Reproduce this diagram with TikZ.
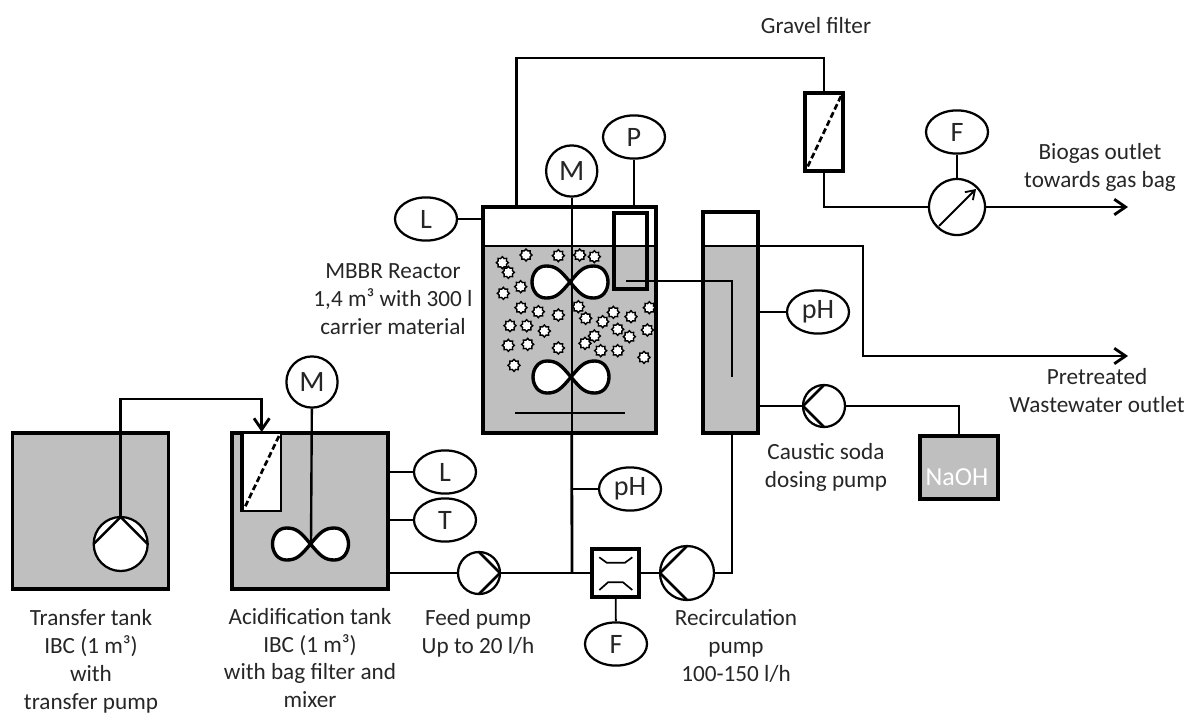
\documentclass[tikz,border=0pt]{standalone}
\usepackage{xcolor}
\usepackage{fontspec}
\setmainfont{Carlito}
\usetikzlibrary{shapes.geometric, arrows.meta, positioning, calc}
\definecolor{liquidgray}{RGB}{191, 191, 191}
\definecolor{textdark}{RGB}{38, 38, 38}
\tikzset{
    tank/.style={draw, line width=2.8pt, rectangle, inner sep=0pt, outer sep=0pt},
    instr/.style={draw, ellipse, line width=1.6pt, fill=white, inner sep=0pt, minimum width=1.55cm, minimum height=1.08cm, font=\fontsize{20}{22}\selectfont, text=textdark},
    motor/.style={draw, circle, line width=1.6pt, fill=white, inner sep=0pt, minimum size=1.28cm, font=\fontsize{21}{22}\selectfont, text=textdark},
    pump/.style={draw, circle, line width=1.6pt, fill=white, inner sep=0pt, outer sep=0pt, minimum size=#1},
    pipe/.style={line width=2pt},
    signal/.style={line width=1.3pt},
    outflow/.style={pipe, -{Straight Barb[length=8pt, width=11pt]}},
    filterdash/.style={line width=1.9pt, dash pattern=on 4.2pt off 2.2pt},
    carrier/.style={draw, star, star points=8, star point ratio=1.35, fill=white, line width=1pt, inner sep=0pt, minimum size=0.3cm},
    label/.style={align=center, inner sep=0pt, font=\fontsize{16.5}{19.9}\selectfont, text=textdark},
    mixer/.pic={
        \draw[line width=2.4pt, fill=white] (0,0) .. controls (-10,-12) and (-14,-16) .. (-24,-16) .. controls (-33,-16) and (-38,-8) .. (-38,0) .. controls (-38,8) and (-33,16) .. (-24,16) .. controls (-14,16) and (-10,12) .. (0,0) .. controls (10,-12) and (14,-16) .. (24,-16) .. controls (33,-16) and (38,-8) .. (38,0) .. controls (38,8) and (33,16) .. (24,16) .. controls (14,16) and (10,12) .. (0,0) -- cycle;
    }
}

\begin{document}
\begin{tikzpicture}[x=0.025cm, y=-0.025cm]
    \useasboundingbox (0,0) rectangle (1194,713);

    % Transfer tank
    \node[tank, fill=liquidgray, minimum width=3.9cm, minimum height=3.9cm] (transfertank) at (90.5,511) {};
    \node[pump=1.35cm] (transferpump) at (120.7,544) {};
    \draw[line width=1.8pt] (transferpump.west) -- (transferpump.north) -- (transferpump.east);
    \coordinate (bagin) at (261.7,432);
    \draw[outflow] (transferpump.north) |- (bagin |- 0,399) -- (bagin);

    % Acidification tank
    \node[tank, fill=liquidgray, minimum width=3.9cm, minimum height=3.9cm] (acidtank) at (310,511) {};
    \fill[white] (242,434) rectangle (281,511);
    \draw[line width=2pt] (281,433) -- (281,511) -- (242,511);
    \draw[line width=2.8pt] (242,433) -- (242,512);
    \draw[filterdash] (279,436) -- (244,509);
    \node[motor] (acidM) at (312,382) {M};
    \pic at (310.5,544) {mixer};
    \draw[signal, line width=1.7pt] (acidM) -- (311,544);
    \node[instr] (acidL) at (445,472) {L};
    \node[instr] (acidT) at (445,520) {T};
    \draw[signal] (acidtank.east |- acidL) -- (acidL);
    \draw[signal] (acidtank.east |- acidT) -- (acidT);

    % MBBR reactor
    \fill[liquidgray] (483,246) rectangle (656,433);
    \foreach \x/\y in {97/428, 115/457, 168/405, 265/407, 329/405, 373/410, 152/500, 100/520, 153/563, 205/575, 265/585, 325/560, 347/595, 398/605, 430/577, 483/590, 538/563, 120/617, 170/617, 223/633, 443/628, 478/650, 532/630, 373/648, 345/670, 115/676, 173/673, 265/684, 392/692, 443/692, 522/712, 132/736}
        \node[carrier] at ({470+\x/3},{120+\y/3}) {};
    \node[tank, minimum width=4.32cm, minimum height=5.65cm] (reactor) at (569.3,320) {};
    \draw[line width=1.7pt] (483,246) -- (656,246);
    \draw[line width=2.7pt] (614,213) rectangle (647,289);
    \pic at (570,282) {mixer};
    \pic at (571,377) {mixer};
    \node[motor] (reactorM) at (571.7,171) {M};
    \draw[signal, line width=1.7pt] (reactorM) -- (571.7,433);
    \draw[pipe] (515,413) -- (625,413);
    \node[instr] (reactorP) at (634,137) {P};
    \draw[signal] (reactorP) -- (reactorP |- reactor.north);
    \node[instr] (reactorL) at (426,219) {L};
    \draw[signal] (reactorL) -- (reactor.west |- reactorL);

    % Recirculation column
    \fill[liquidgray] (703,246) rectangle (758,433);
    \node[tank, minimum width=1.38cm, minimum height=5.53cm] (column) at (730.5,322.5) {};
    \draw[line width=1.7pt] (703,246) -- (758,246);
    \coordinate (inletdown) at (732,281);
    \draw[pipe] (626,281) -- (inletdown) -- (732,377);
    \node[instr] (columnpH) at (818,312) {pH};
    \draw[signal] (column.east |- columnpH) -- (columnpH);

    % Wastewater outlet
    \coordinate (wasteout) at (1128,356);
    \draw[outflow] (732,246) -- (863,246) -- (863,356) -- (wasteout);

    % Gravel filter and gas line
    \node[tank, line width=2.5pt, fill=white, minimum width=0.95cm, minimum height=1.95cm] (gravel) at (824,132) {};
    \draw[filterdash] (gravel.north east) ++(-2,3) -- ($(gravel.south west)+(2,-3)$);
    \draw[pipe] (516.7,207) |- (gravel.north |- 0,58) -- (gravel.north);
    \node[pump=1.4cm] (gasmeter) at (957,207) {};
    \draw[signal, -{Straight Barb[length=6pt, width=8pt]}] (939,226) -- (976,189);
    \draw[pipe] (gravel.south) |- (gasmeter);
    \node[instr] (gasF) at (957,132) {F};
    \draw[signal] (gasF) -- (gasmeter);
    \coordinate (gasout) at (1128,207);
    \draw[outflow] (gasmeter) -- (gasout);

    % Main line with pumps
    \node[pump=1.05cm] (feedpump) at (479,573) {};
    \draw[line width=1.8pt] (feedpump.north) -- (feedpump.east) -- (feedpump.south);
    \node[tank, line width=2.5pt, fill=white, minimum width=1.18cm, minimum height=1.2cm] (flowcell) at (615.5,573) {};
    \draw[line width=1.2pt] (599.3,557.3) -- (606.7,562.7) -- (625,562.7) -- (632.3,557.3);
    \draw[line width=1.2pt] (599.3,590) -- (608,582.3) -- (623,582.3) -- (632.3,590);
    \node[pump=1.35cm] (recircpump) at (687,573) {};
    \draw[line width=1.8pt] (recircpump.north) -- (recircpump.west) -- (recircpump.south);
    \coordinate (junction) at (572,573);
    \draw[pipe] (acidtank.east |- feedpump) -- (feedpump);
    \draw[pipe] (feedpump) -- (flowcell);
    \draw[pipe] (flowcell) -- (recircpump);
    \draw[pipe] (recircpump) -| (732,433);
    \draw[pipe] (junction) -- (571.7,433);
    \node[instr] (linepH) at (630,489) {pH};
    \draw[signal] (572,489) -- (linepH);
    \node[instr] (lineF) at (616,644) {F};
    \draw[signal] (flowcell) -- (lineF);

    % Caustic soda dosing
    \node[pump=1.05cm] (causticpump) at (824,406) {};
    \draw[line width=1.8pt] (causticpump.north) -- (causticpump.west) -- (causticpump.south);
    \node[tank, fill=liquidgray, minimum width=1.95cm, minimum height=1.58cm] (naoh) at (959,467.5) {};
    \node[text=white, inner sep=0pt, font=\fontsize{18.5}{20}\selectfont] (naohlabel) at (957,477) {NaOH};
    \draw[pipe] (column.east |- causticpump) -- (causticpump);
    \draw[pipe] (causticpump) -| (naoh);

    % Labels
    \node[label] (gravellabel) at (816,26) {Gravel filter};
    \node[label] (biogaslabel) at (1100,167) {Biogas outlet\\towards gas bag};
    \node[label] (mbbrlabel) at (393,299) {MBBR Reactor\\1,4 m³ with 300 l\\carrier material};
    \node[label] (wastelabel) at (1097,391) {Pretreated\\Wastewater outlet};
    \node[label] (causticlabel) at (826,467) {Caustic soda\\dosing pump};
    \node[label] (transferlabel) at (91,661) {Transfer tank\\IBC (1 m³)\\with\\transfer pump};
    \node[label] (acidlabel) at (310,658) {Acidification tank\\IBC (1 m³)\\with bag filter and\\mixer};
    \node[label] (feedlabel) at (478,633) {Feed pump\\Up to 20 l/h};
    \node[label] (recirclabel) at (736,646) {Recirculation\\pump\\100-150 l/h};
\end{tikzpicture}
\end{document}
